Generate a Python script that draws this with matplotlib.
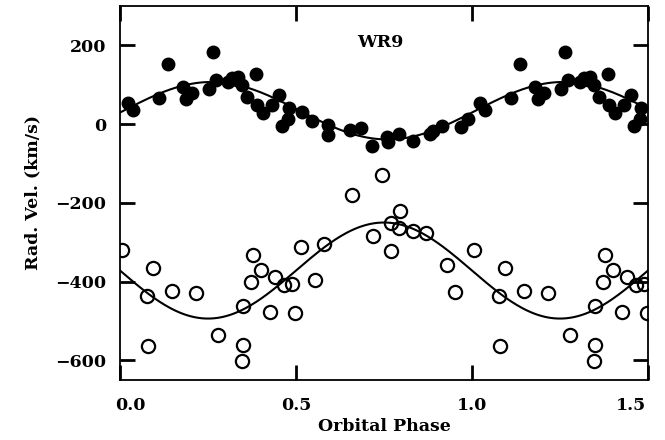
import numpy as np
import matplotlib
matplotlib.use('Agg')
import matplotlib.pyplot as plt
from matplotlib.transforms import ScaledTranslation

# emission-line (filled) radial velocities, phase 0..1
phase_em = [0.024, 0.038, 0.112, 0.137, 0.180, 0.188, 0.204, 0.254, 0.265, 0.272,
            0.308, 0.317, 0.331, 0.336, 0.346, 0.362, 0.386, 0.388, 0.405, 0.431,
            0.452, 0.459, 0.478, 0.481, 0.516, 0.545, 0.592, 0.590, 0.653, 0.684,
            0.715, 0.758, 0.762, 0.794, 0.831, 0.881, 0.890, 0.914, 0.968, 0.988]
rv_em = [54, 35, 65, 152, 93, 63, 80, 90, 183, 113,
         107, 116, 111, 120, 99, 68, 127, 48, 29, 48,
         73, -5, 13, 40, 30, 8, -3, -28, -15, -11,
         -56, -32, -45, -25, -43, -24, -17, -5, -7, 13]

# absorption-line (open) radial velocities, phase 0..1
phase_ab = [0.005, 0.078, 0.079, 0.093, 0.147, 0.216, 0.279, 0.346, 0.350, 0.349,
            0.372, 0.379, 0.400, 0.426, 0.439, 0.467, 0.488, 0.497, 0.514, 0.554,
            0.580, 0.658, 0.718, 0.744, 0.769, 0.770, 0.795, 0.794, 0.831, 0.869,
            0.928, 0.953]
rv_ab = [-319, -437, -564, -365, -423, -429, -536, -602, -562, -461,
         -402, -333, -370, -477, -389, -410, -407, -479, -313, -395,
         -304, -180, -284, -129, -250, -323, -220, -264, -271, -277,
         -357, -427]

# orbit fits: gamma, K, phase offset
gam_em, k_em, ph0_em = 34, 73, 0.01
gam_ab, k_ab, ph0_ab = -372, -122, 0.0

xtick_vals = [0, 0.5, 1.0, 1.5]
xtick_labs = ['0.0', '0.5', '1.0', '1.5']
ytick_vals = [-600, -400, -200, 0, 200]
ytick_labs = ['\u2212600', '\u2212400', '\u2212200', '0', '200']

plt.rcParams['font.family'] = 'DejaVu Serif'

fig = plt.figure(figsize=(6.65, 4.4), dpi=100)
ax = fig.add_axes([0.1805, 0.1364, 0.7939, 0.85])


def unfold(ph, rv):
    '''repeat the points of phase < 0.5 one cycle later'''
    ph = np.asarray(ph, float)
    rv = np.asarray(rv, float)
    m = ph + 1 <= 1.5
    return np.concatenate([ph, ph[m] + 1]), np.concatenate([rv, rv[m]])


x, y = unfold(phase_em, rv_em)
ax.plot(x, y, 'o', color='black', ms=9, zorder=3)
x, y = unfold(phase_ab, rv_ab)
ax.plot(x, y, 'o', mfc='none', mec='black', mew=1.6, ms=9.5, zorder=3)

grid = np.linspace(0, 1.5, 400)
ax.plot(grid, gam_em + k_em * np.sin(2 * np.pi * (grid - ph0_em)), color='black', lw=1.5)
ax.plot(grid, gam_ab + k_ab * np.sin(2 * np.pi * (grid - ph0_ab)), color='black', lw=1.5)

ax.set_xlim(0, 1.5)
ax.set_ylim(-650, 300)
ax.set_xticks(xtick_vals)
ax.set_xticklabels(xtick_labs, fontweight='bold', fontsize=12.5)
ax.set_yticks(ytick_vals)
ax.set_yticklabels(ytick_labs, fontweight='bold', fontsize=12.5)
# one call per axis so nothing resets the tick length
ax.xaxis.set_tick_params(which='major', direction='in', length=11, width=2,
                         color='black', bottom=True, top=True, pad=12)
ax.yaxis.set_tick_params(which='major', direction='in', length=11, width=2,
                         color='black', left=True, right=True, pad=10)
for s in ax.spines.values():
    s.set_linewidth(1.3)

# end labels sit a bit inside the frame
labs = ax.get_xticklabels()
labs[0].set_transform(labs[0].get_transform() + ScaledTranslation(0.10, 0, fig.dpi_scale_trans))
labs[-1].set_transform(labs[-1].get_transform() + ScaledTranslation(-0.17, 0, fig.dpi_scale_trans))

ax.set_xlabel('Orbital Phase', fontsize=12.5, fontweight='bold', labelpad=3)
ax.set_ylabel('Rad. Vel. (km/s)', fontsize=12.5, fontweight='bold', labelpad=10)
ax.text(0.739, 208, 'WR9', ha='center', va='center', fontsize=12.5, fontweight='bold')

fig.savefig('out.png', dpi=100)
